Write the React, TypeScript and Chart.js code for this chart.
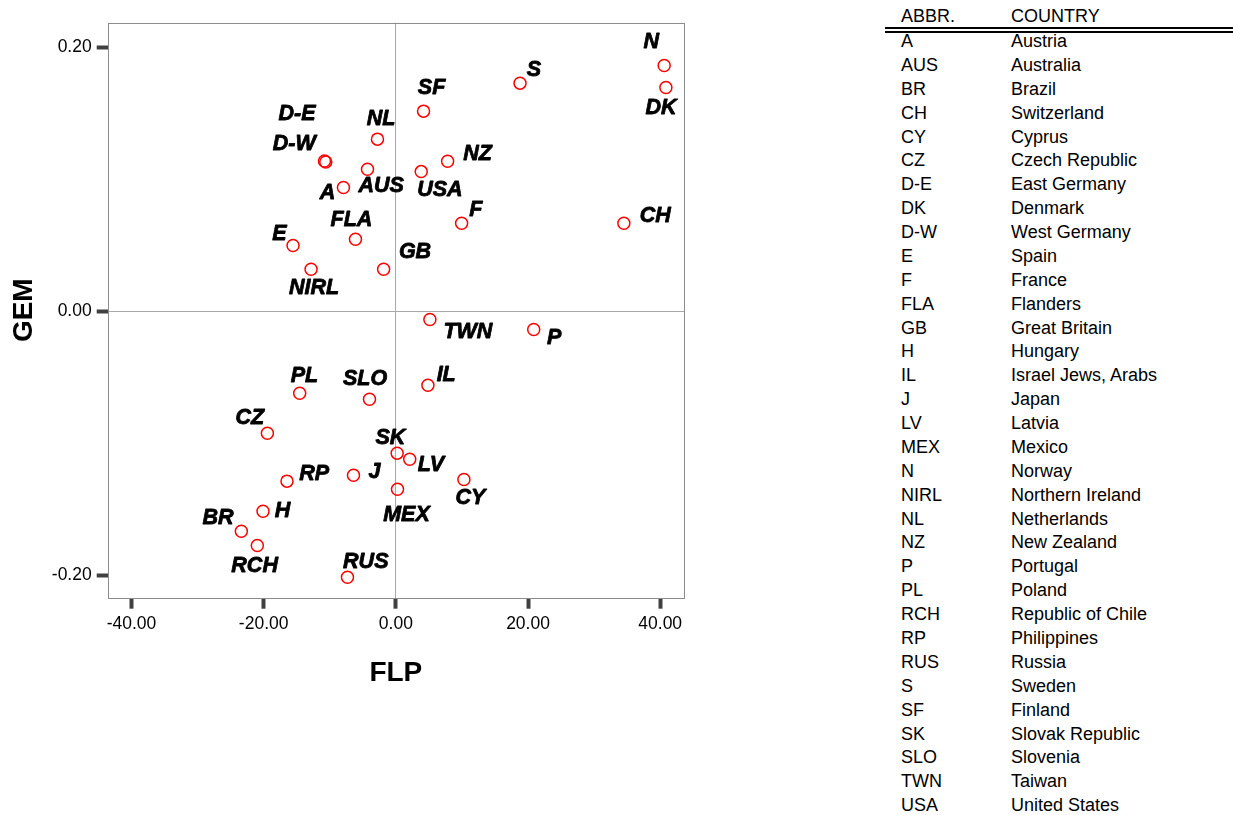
import React, { useEffect, useRef } from 'react';
import { Chart, registerables } from 'chart.js';

Chart.register(...registerables);

const FONT = "'Liberation Sans', Arial, Helvetica, sans-serif";

// Scatter data: abbreviation, FLP (x), GEM (y)
const abbr = ['A', 'AUS', 'BR', 'CH', 'CY', 'CZ', 'D-E', 'DK', 'D-W', 'E', 'F', 'FLA', 'GB', 'H', 'IL', 'J', 'LV', 'MEX', 'N', 'NIRL', 'NL', 'NZ', 'P', 'PL', 'RCH', 'RP', 'RUS', 'S', 'SF', 'SK', 'SLO', 'TWN', 'USA'];
const flp = [-7.93, -4.29, -23.38, 34.5, 10.3, -19.44, -10.8, 40.86, -10.6, -15.56, 9.95, -6.11, -1.85, -20.1, 4.85, -6.41, 2.1, 0.25, 40.6, -12.83, -2.78, 7.83, 20.86, -14.55, -20.96, -16.47, -7.32, 18.79, 4.19, 0.2, -3.99, 5.15, 3.84];
const gem = [0.0939, 0.1078, -0.1664, 0.0669, -0.1273, -0.0922, 0.114, 0.1697, 0.1133, 0.05, 0.0669, 0.0548, 0.032, -0.1513, -0.0558, -0.124, -0.1119, -0.1346, 0.1864, 0.032, 0.1306, 0.1139, -0.0136, -0.0619, -0.1773, -0.1285, -0.2013, 0.173, 0.1518, -0.1073, -0.0664, -0.0061, 0.106];

const xTicks = [-40, -20, 0, 20, 40];
const yTicks = [-0.2, 0, 0.2];

// Legend table
const tableAbbr = ['A', 'AUS', 'BR', 'CH', 'CY', 'CZ', 'D-E', 'DK', 'D-W', 'E', 'F', 'FLA', 'GB', 'H', 'IL', 'J', 'LV', 'MEX', 'N', 'NIRL', 'NL', 'NZ', 'P', 'PL', 'RCH', 'RP', 'RUS', 'S', 'SF', 'SK', 'SLO', 'TWN', 'USA'];
const tableCountry = ['Austria', 'Australia', 'Brazil', 'Switzerland', 'Cyprus', 'Czech Republic', 'East Germany', 'Denmark', 'West Germany', 'Spain', 'France', 'Flanders', 'Great Britain', 'Hungary', 'Israel Jews, Arabs', 'Japan', 'Latvia', 'Mexico', 'Norway', 'Northern Ireland', 'Netherlands', 'New Zealand', 'Portugal', 'Poland', 'Republic of Chile', 'Philippines', 'Russia', 'Sweden', 'Finland', 'Slovak Republic', 'Slovenia', 'Taiwan', 'United States'];

// Label placement (pixel offsets of label centre from its marker)
const labelOffsets: Record<string, [number, number]> = {
  'A': [-16, 5.5], 'AUS': [13.6, 17], 'BR': [-23.4, -13], 'CH': [31.3, -7], 'CY': [6.5, 18.3],
  'CZ': [-17.5, -15], 'D-E': [-27.5, -47.2], 'DK': [-4.9, 20.7], 'D-W': [-31.6, -17.7], 'E': [-13.6, -11.5],
  'F': [14.1, -12.7], 'FLA': [-4, -18.7], 'GB': [31.4, -17], 'H': [19.4, -0.2], 'IL': [18.3, -9.7],
  'J': [21, -2.7], 'LV': [21.2, 6], 'MEX': [9, 26.3], 'N': [-13, -23.3], 'NIRL': [3, 19],
  'NL': [3.5, -19.7], 'NZ': [30, -7], 'P': [20.5, 8.3], 'PL': [4.7, -16.7], 'RCH': [-2.7, 20.7],
  'RP': [27.2, -6.7], 'RUS': [18.3, -15], 'S': [13.8, -12.7], 'SF': [8, -23], 'SK': [-6.8, -15],
  'SLO': [-4.4, -20.4], 'TWN': [38, 12.7], 'USA': [18.7, 18.3],
};

export default function App() {
  const ref = useRef<HTMLCanvasElement>(null);

  useEffect(() => {
    if (!ref.current) return;

    const framePlugin = {
      id: 'frame',
      beforeDatasetsDraw(chart: any) {
        const { ctx, chartArea: a } = chart;
        ctx.save();
        ctx.strokeStyle = '#8c8c8c';
        ctx.lineWidth = 1;
        ctx.strokeRect(Math.round(a.left) + 0.5, Math.round(a.top) + 0.5, Math.round(a.right - a.left), Math.round(a.bottom - a.top));
        ctx.restore();
      },
    };

    const labelPlugin = {
      id: 'pointLabels',
      afterDatasetsDraw(chart: any) {
        const { ctx } = chart;
        const meta = chart.getDatasetMeta(0);
        ctx.save();
        ctx.font = `italic bold 21.5px ${FONT}`;
        ctx.fillStyle = '#000';
        ctx.strokeStyle = '#000';
        ctx.lineWidth = 0.8;
        ctx.lineJoin = 'round';
        ctx.textAlign = 'center';
        ctx.textBaseline = 'middle';
        meta.data.forEach((el: any, i: number) => {
          const off = labelOffsets[abbr[i]] || [0, -18];
          ctx.fillText(abbr[i], el.x + off[0], el.y + off[1]);
          ctx.strokeText(abbr[i], el.x + off[0], el.y + off[1]);
        });
        ctx.restore();
      },
    };

    const zeroGrid = (c: any) => (c.tick && c.tick.value === 0 ? '#a8a8a8' : 'rgba(0,0,0,0)');

    const chart = new Chart(ref.current, {
      type: 'scatter',
      data: {
        datasets: [{
          data: flp.map((x, i) => ({ x, y: gem[i] })),
          pointStyle: 'circle',
          pointRadius: 6,
          pointHoverRadius: 6,
          borderColor: '#ff0000',
          backgroundColor: 'rgba(255,255,255,0)',
          borderWidth: 1.5,
        }],
      },
      options: {
        responsive: false,
        animation: false,
        events: [],
        layout: { padding: { left: 0, right: 36, top: 22.7, bottom: 0 } },
        plugins: { legend: { display: false }, tooltip: { enabled: false }, title: { display: false } },
        scales: {
          x: {
            type: 'linear',
            min: -43.6,
            max: 43.6,
            afterBuildTicks: (s: any) => { s.ticks = xTicks.map((v) => ({ value: v })); },
            afterFit: (s: any) => { s.height = 102.3; },
            ticks: {
              callback: (v: any) => Number(v).toFixed(2),
              font: { family: FONT, size: 17.5 },
              color: '#000',
              padding: 5,
              maxRotation: 0,
            },
            grid: { color: zeroGrid, lineWidth: 1, tickColor: '#404040', tickWidth: 4, tickLength: 11 },
            border: { display: false },
            title: { display: true, text: 'FLP', font: { family: FONT, size: 28, weight: 'bold' }, color: '#000', padding: { top: 0, bottom: 10 } },
          },
          y: {
            type: 'linear',
            min: -0.2168,
            max: 0.2188,
            afterBuildTicks: (s: any) => { s.ticks = yTicks.map((v) => ({ value: v })); },
            afterFit: (s: any) => { s.width = 107.7; },
            ticks: {
              callback: (v: any) => Number(v).toFixed(2),
              font: { family: FONT, size: 17.5 },
              color: '#000',
              padding: 5,
            },
            grid: { color: zeroGrid, lineWidth: 1, tickColor: '#404040', tickWidth: 4, tickLength: 11 },
            border: { display: false },
            title: { display: true, text: 'GEM', font: { family: FONT, size: 28, weight: 'bold' }, color: '#000', padding: { top: 7, bottom: 0 } },
          },
        },
      },
      plugins: [framePlugin, labelPlugin],
    } as any);

    return () => chart.destroy();
  }, []);

  const rowText: React.CSSProperties = { position: 'absolute', fontFamily: FONT, fontSize: 18, lineHeight: '24px', color: '#000', whiteSpace: 'nowrap' };

  return (
    <div style={{ position: 'absolute', left: 0, top: 0, width: 1233, height: 815, background: '#fff', overflow: 'hidden' }}>
      <canvas ref={ref} width={720} height={700} style={{ position: 'absolute', left: 0, top: 0, width: 720, height: 700, display: 'block' }} />
      <div style={{ ...rowText, left: 901, top: 3.5 }}>ABBR.</div>
      <div style={{ ...rowText, left: 1011, top: 3.5 }}>COUNTRY</div>
      <div style={{ position: 'absolute', left: 885, top: 27, width: 348, height: 2, background: '#000' }} />
      <div style={{ position: 'absolute', left: 885, top: 31, width: 348, height: 2, background: '#000' }} />
      {tableAbbr.map((a, i) => (
        <React.Fragment key={a}>
          <div style={{ ...rowText, left: 901, top: 41 + i * 23.88 - 12 }}>{a}</div>
          <div style={{ ...rowText, left: 1011, top: 41 + i * 23.88 - 12 }}>{tableCountry[i]}</div>
        </React.Fragment>
      ))}
    </div>
  );
}
